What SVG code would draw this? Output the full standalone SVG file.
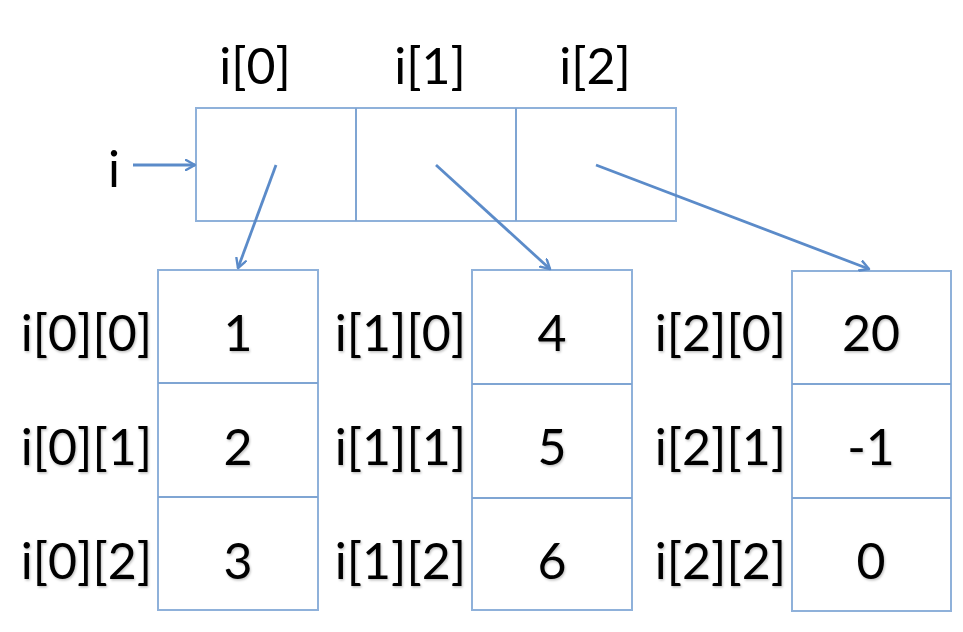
<svg xmlns="http://www.w3.org/2000/svg" width="963" height="632" viewBox="0 0 963 632">
  <defs>
    <marker id="head" viewBox="0 0 12 12" refX="10" refY="6" markerWidth="12" markerHeight="12" markerUnits="userSpaceOnUse" orient="auto">
      <polyline points="1,1 10,6 1,11" fill="none" stroke="#5b8bc9" stroke-width="2.4" stroke-linecap="round" stroke-linejoin="round"/>
    </marker>
    <filter id="shadow" x="-10%" y="-10%" width="130%" height="130%">
      <feDropShadow dx="1" dy="1.5" stdDeviation="1" flood-color="#000" flood-opacity="0.25"/>
    </filter>
  </defs>
  <style>
    .cell { fill: #ffffff; stroke: #8fb1da; stroke-width: 2; }
    .div { stroke: #7fa5d3; stroke-width: 2; }
    .lbl { font-family: Lato, "Open Sans", sans-serif; font-size: 50px; fill: #000; }
    .val { font-family: Lato, "Open Sans", sans-serif; font-size: 50px; fill: #000; text-anchor: middle; }
    .arrow { stroke: #5b8bc9; stroke-width: 2.8; fill: none; marker-end: url(#head); }
  </style>
  <rect width="963" height="632" fill="#ffffff"/>

  <!-- pointer array i -->
  <g id="array-i">
    <rect class="cell" x="196" y="108" width="480" height="113"/>
    <line class="div" x1="356" y1="108" x2="356" y2="221"/>
    <line class="div" x1="516" y1="108" x2="516" y2="221"/>
    <text class="val" x="255" y="84">i[0]</text>
    <text class="val" x="430" y="84">i[1]</text>
    <text class="val" x="595" y="84">i[2]</text>
    <text class="lbl" x="108" y="187">i</text>
  </g>

  <!-- row i[0] -->
  <g id="row-0">
    <rect class="cell" x="158" y="270" width="160" height="340"/>
    <line class="div" x1="158" y1="383" x2="318" y2="383"/>
    <line class="div" x1="158" y1="497" x2="318" y2="497"/>
    <g filter="url(#shadow)">
      <text class="lbl" x="152" y="351" text-anchor="end">i[0][0]</text>
      <text class="lbl" x="152" y="465" text-anchor="end">i[0][1]</text>
      <text class="lbl" x="152" y="579" text-anchor="end">i[0][2]</text>
      <text class="val" x="238" y="351">1</text>
      <text class="val" x="238" y="465">2</text>
      <text class="val" x="238" y="579">3</text>
    </g>
  </g>

  <!-- row i[1] -->
  <g id="row-1">
    <rect class="cell" x="472" y="270" width="160" height="340"/>
    <line class="div" x1="472" y1="384" x2="632" y2="384"/>
    <line class="div" x1="472" y1="498" x2="632" y2="498"/>
    <g filter="url(#shadow)">
      <text class="lbl" x="466" y="351" text-anchor="end">i[1][0]</text>
      <text class="lbl" x="466" y="465" text-anchor="end">i[1][1]</text>
      <text class="lbl" x="466" y="579" text-anchor="end">i[1][2]</text>
      <text class="val" x="552" y="351">4</text>
      <text class="val" x="552" y="465">5</text>
      <text class="val" x="552" y="579">6</text>
    </g>
  </g>

  <!-- row i[2] -->
  <g id="row-2">
    <rect class="cell" x="792" y="271" width="159" height="340"/>
    <line class="div" x1="792" y1="384" x2="951" y2="384"/>
    <line class="div" x1="792" y1="498" x2="951" y2="498"/>
    <g filter="url(#shadow)">
      <text class="lbl" x="786" y="351" text-anchor="end">i[2][0]</text>
      <text class="lbl" x="786" y="465" text-anchor="end">i[2][1]</text>
      <text class="lbl" x="786" y="579" text-anchor="end">i[2][2]</text>
      <text class="val" x="871" y="351">20</text>
      <text class="val" x="871" y="465">-1</text>
      <text class="val" x="871" y="579">0</text>
    </g>
  </g>

  <!-- pointers -->
  <g id="connectors">
    <line class="arrow" x1="133" y1="165" x2="195" y2="165"/>
    <line class="arrow" x1="276" y1="165" x2="238" y2="268"/>
    <line class="arrow" x1="436" y1="165" x2="550" y2="269"/>
    <line class="arrow" x1="596" y1="165" x2="869" y2="269"/>
  </g>
</svg>
